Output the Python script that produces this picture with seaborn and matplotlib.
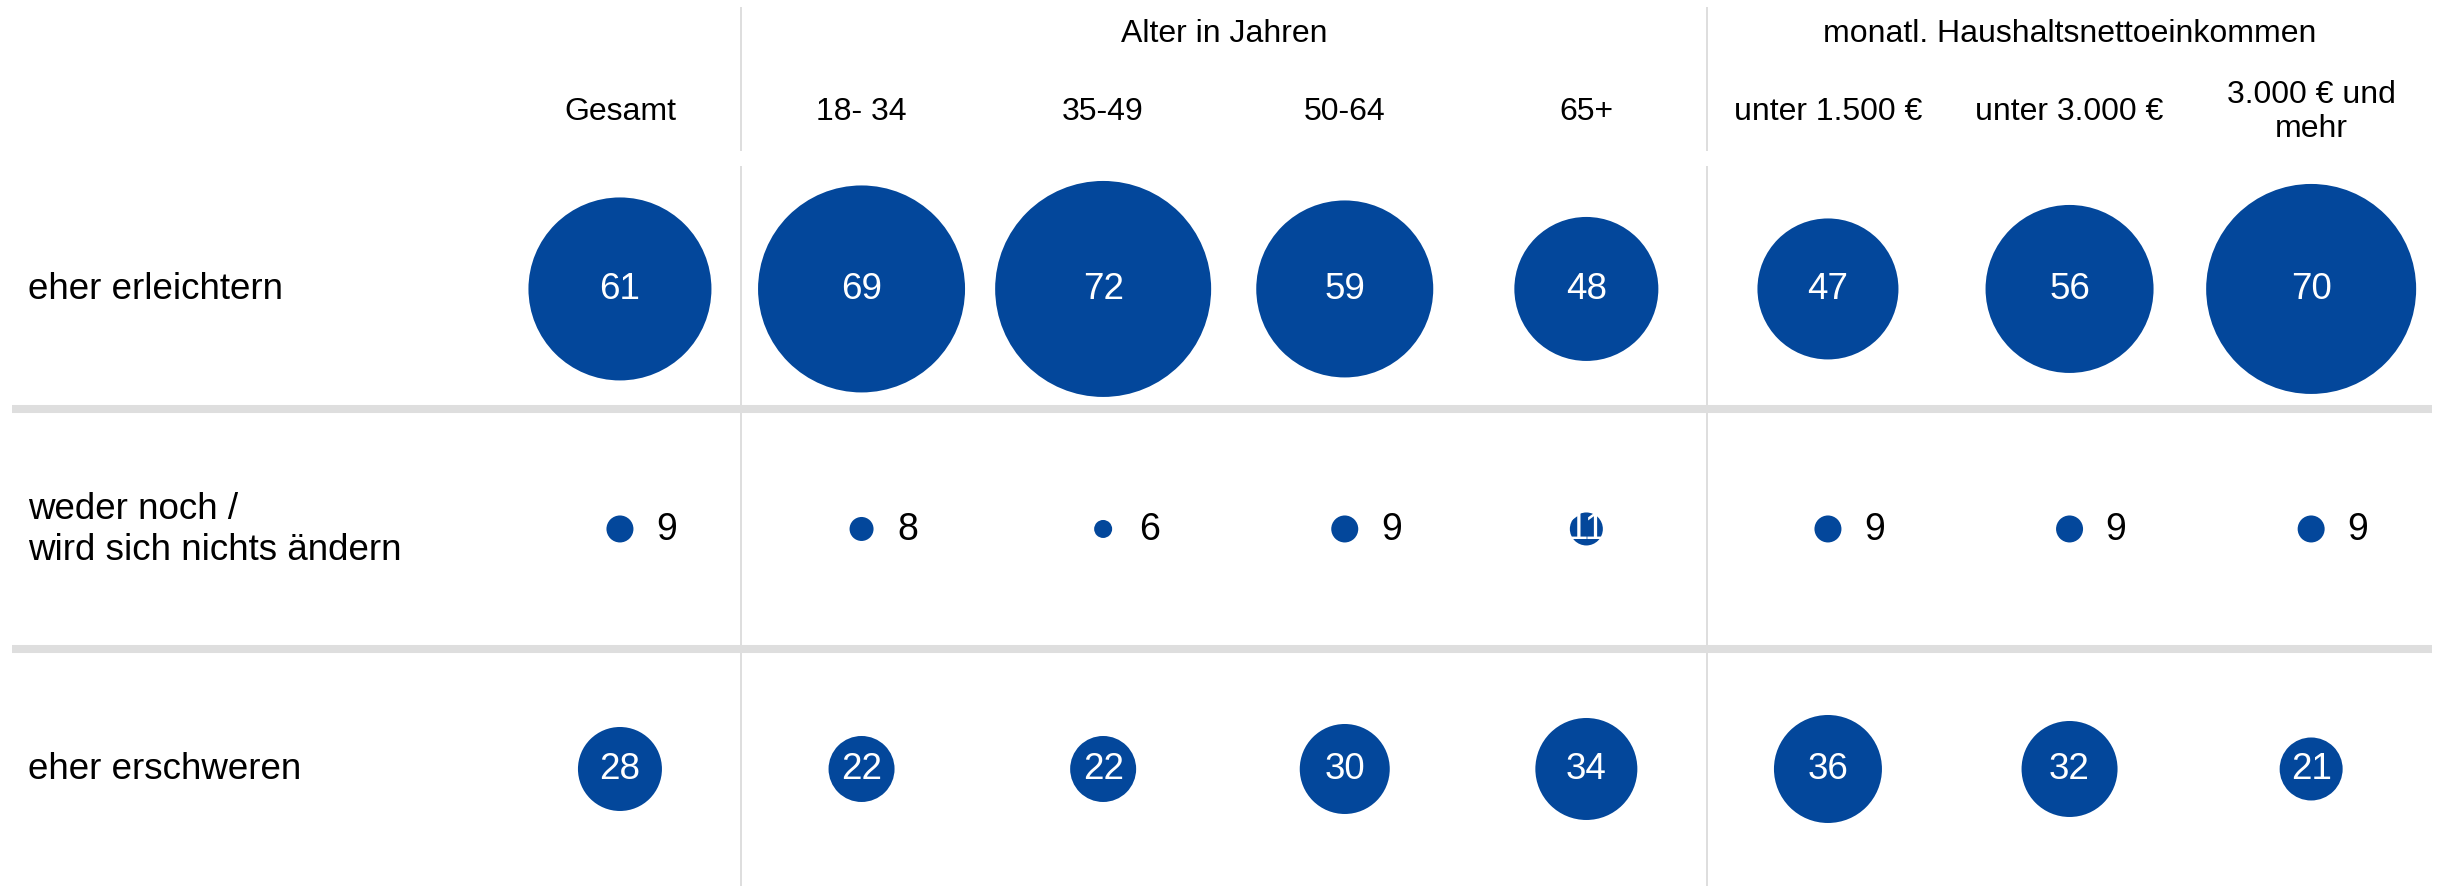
import numpy as np
import pandas as pd
import matplotlib
matplotlib.use("Agg")
import matplotlib.pyplot as plt
import seaborn as sns

sns.set_theme(style="white")
plt.rcParams["font.family"] = ["Liberation Sans", "DejaVu Sans"]
plt.rcParams["text.color"] = "black"

# Data
groups = ["Gesamt", "18- 34", "35-49", "50-64", "65+",
          "unter 1.500 €", "unter 3.000 €", "3.000 € und\nmehr"]
answers = ["eher erleichtern", "weder noch /\nwird sich nichts ändern", "eher erschweren"]
erleichtern = [61, 69, 72, 59, 48, 47, 56, 70]
weder_noch = [9, 8, 6, 9, 11, 9, 9, 9]
erschweren = [28, 22, 22, 30, 34, 36, 32, 21]
header_groups = ["Alter in Jahren", "monatl. Haushaltsnettoeinkommen"]
header_spans = [(1, 4), (5, 7)]

blue = "#03479b"
grid_grey = "#dedede"
dpi = 100

df = pd.DataFrame({
    "group": groups * 3,
    "answer": [answers[0]] * 8 + [answers[1]] * 8 + [answers[2]] * 8,
    "value": erleichtern + weder_noch + erschweren,
})

# bubble diameter is proportional to the value (3 px per percentage point)
px_per_unit = 3.0
size_map = {v: (px_per_unit * v * 72 / dpi) ** 2 for v in df["value"].unique()}

fig = plt.figure(figsize=(24.45, 8.87), dpi=dpi)
ax = fig.add_axes([0, 0, 1, 1])

sns.scatterplot(data=df, x="group", y="answer", size="value", sizes=size_map,
                color=blue, linewidth=0, legend=False, ax=ax, zorder=3)

ax.set_xlim(-2.566, 7.554)
ax.set_ylim(2.4875, -1.208)
ax.axis("off")

# value labels
for _, r in df.iterrows():
    xi = groups.index(r["group"])
    yi = answers.index(r["answer"])
    if r["value"] >= 10:
        ax.text(xi, yi, f"{r['value']}", color="white", ha="center", va="center",
                fontsize=26.5, zorder=4)
    else:
        ax.annotate(f"{r['value']}", xy=(xi, yi), xytext=(26, 0), textcoords="offset points",
                    ha="left", va="center", fontsize=27, color="black", zorder=4)

# row labels
for yi, lab in enumerate(answers):
    ax.text(-2.45, yi, lab, ha="left", va="center", fontsize=26.5, linespacing=1.25)

# column labels
for xi, lab in enumerate(groups):
    ax.text(xi, -0.742, lab, ha="center", va="center", fontsize=23,
            multialignment="center", linespacing=1.2)

# group headers
for lab, (a, b) in zip(header_groups, header_spans):
    ax.text((a + b) / 2, -1.067, lab, ha="center", va="center", fontsize=23)

# separators
for y in [0.5, 1.5]:
    ax.hlines(y, -2.517, 7.5, color=grid_grey, lw=5.8, zorder=1)
for x in [0.5, 4.5]:
    ax.vlines(x, -1.175, -0.575, color=grid_grey, lw=1.4, zorder=1)
    ax.vlines(x, -0.512, 2.49, color=grid_grey, lw=1.4, zorder=1)

fig.savefig("out.png", dpi=dpi)
